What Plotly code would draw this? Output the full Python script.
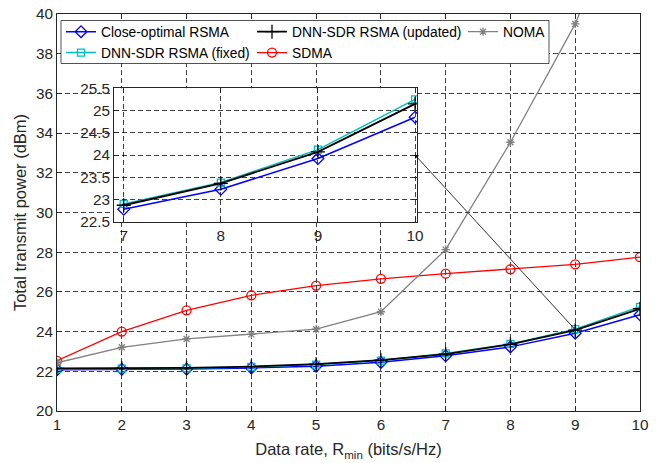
import plotly.graph_objects as go

# ---------------- data ----------------
rate = [1, 2, 3, 4, 5, 6, 7, 8, 9, 10]
close_optimal_rsma = [22.08, 22.10, 22.11, 22.17, 22.26, 22.45, 22.78, 23.23, 23.92, 24.85]
dnn_sdr_fixed = [22.12, 22.13, 22.15, 22.22, 22.34, 22.54, 22.90, 23.38, 24.12, 25.25]
dnn_sdr_updated = [22.15, 22.15, 22.17, 22.24, 22.36, 22.56, 22.87, 23.36, 24.07, 25.15]
sdma = [22.53, 24.00, 25.07, 25.83, 26.32, 26.66, 26.92, 27.14, 27.39, 27.75]
noma = [22.43, 23.21, 23.63, 23.86, 24.12, 25.00, 28.13, 33.54, 39.50, 47.50]

x_ticks = [1, 2, 3, 4, 5, 6, 7, 8, 9, 10]
y_ticks = [20, 22, 24, 26, 28, 30, 32, 34, 36, 38, 40]
inset_x_ticks = [7, 8, 9, 10]
inset_y_ticks = [22.5, 23, 23.5, 24, 24.5, 25, 25.5]
inset_start = 6  # index of rate 7

# ---------------- geometry / style ----------------
W, H = 657, 463
ML, MR, MT, MB = 57, 17, 14, 52
PW, PH = W - ML - MR, H - MT - MB
X_RANGE, Y_RANGE = [1, 10], [20, 40]
INSET_PX = dict(left=114, right=417, top=88.3, bottom=221.7)
IX_RANGE, IY_RANGE = [6.9, 10.02], [22.5, 25.5]

TXT = '#262626'
GRID = 'rgba(0,0,0,0.75)'
FONT = 'Liberation Sans, Arial, sans-serif'


def px2paper_x(px):
    return (px - ML) / PW


def px2paper_y(py):
    return (H - MB - py) / PH


inset_dom_x = [px2paper_x(INSET_PX['left']), px2paper_x(INSET_PX['right'])]
inset_dom_y = [px2paper_y(INSET_PX['bottom']), px2paper_y(INSET_PX['top'])]


def main_px(x, y):
    px = ML + (x - X_RANGE[0]) / (X_RANGE[1] - X_RANGE[0]) * PW
    py = (H - MB) - (y - Y_RANGE[0]) / (Y_RANGE[1] - Y_RANGE[0]) * PH
    return px, py


def inset_px(x, y):
    l, r, t, b = INSET_PX['left'], INSET_PX['right'], INSET_PX['top'], INSET_PX['bottom']
    px = l + (x - IX_RANGE[0]) / (IX_RANGE[1] - IX_RANGE[0]) * (r - l)
    py = b - (y - IY_RANGE[0]) / (IY_RANGE[1] - IY_RANGE[0]) * (b - t)
    return px, py


series = [
    dict(name='Close-optimal RSMA', y=close_optimal_rsma, color='#0000FF',
         symbol='diamond-open', size=9, width=1.5, legend='legend', inset=True),
    dict(name='DNN-SDR RSMA (fixed)', y=dnn_sdr_fixed, color='rgb(0,191,191)',
         symbol='square-open', size=7, width=1.5, legend='legend', inset=True),
    dict(name='DNN-SDR RSMA (updated)', y=dnn_sdr_updated, color='#000000',
         symbol='cross-thin-open', size=10, width=1.8, legend='legend2', inset=True),
    dict(name='SDMA', y=sdma, color='#FF0000',
         symbol='circle-open', size=9, width=1.3, legend='legend2', inset=False),
    dict(name='NOMA', y=noma, color='#808080',
         symbol='asterisk-open', size=7, width=1.3, legend='legend3', inset=False),
]

fig = go.Figure()
for s in series:
    fig.add_trace(go.Scatter(
        x=rate, y=s['y'], name=s['name'], mode='lines+markers',
        line=dict(color=s['color'], width=s['width']),
        marker=dict(symbol=s['symbol'], size=s['size'], color=s['color'],
                    line=dict(color=s['color'], width=1.3)),
        legend=s['legend'], xaxis='x', yaxis='y'))

for s in series:
    if not s['inset']:
        continue
    fig.add_trace(go.Scatter(
        x=rate[inset_start:], y=s['y'][inset_start:], name=s['name'],
        mode='lines+markers', showlegend=False,
        line=dict(color=s['color'], width=s['width']),
        marker=dict(symbol=s['symbol'], size=s['size'], color=s['color'],
                    line=dict(color=s['color'], width=1.3)),
        xaxis='x2', yaxis='y2'))

axis_common = dict(
    showgrid=True, gridcolor=GRID, gridwidth=1, griddash='5px,3px',
    ticks='inside', ticklen=5, tickcolor=TXT, tickwidth=0.8,
    showline=True, linecolor=TXT, linewidth=0.8, mirror='ticks',
    zeroline=False, automargin=False,
    tickfont=dict(size=15.3, color=TXT, family=FONT),
)

leg_common = dict(xanchor='left', yanchor='top', orientation='v',
                  bgcolor='rgba(0,0,0,0)', borderwidth=0, tracegroupgap=0,
                  font=dict(size=13.8, color='#000000', family=FONT))
LEG_TOP = 16.2
legend_cols_px = [61, 252, 463]
box_px = dict(left=61, right=549, top=20.5, bottom=63.5)

head = inset_px(10, 24)
tail = main_px(9, 24.1)

fig.update_layout(
    width=W, height=H,
    margin=dict(l=ML, r=MR, t=MT, b=MB, autoexpand=False),
    paper_bgcolor='white', plot_bgcolor='white',
    font=dict(family=FONT, color=TXT),
    xaxis=dict(range=X_RANGE, tickvals=x_ticks, **axis_common,
               title=dict(text='Data rate, R<sub>min</sub> (bits/s/Hz)',
                          font=dict(size=16.5, color=TXT, family=FONT), standoff=11)),
    yaxis=dict(range=Y_RANGE, tickvals=y_ticks, **axis_common,
               title=dict(text='Total transmit power (dBm)',
                          font=dict(size=16.5, color=TXT, family=FONT), standoff=5)),
    xaxis2=dict(domain=inset_dom_x, anchor='y2', range=IX_RANGE,
                tickvals=inset_x_ticks, **axis_common),
    yaxis2=dict(domain=inset_dom_y, anchor='x2', range=IY_RANGE,
                tickvals=inset_y_ticks, **axis_common),
    legend=dict(x=px2paper_x(legend_cols_px[0]), y=px2paper_y(LEG_TOP), **leg_common),
    legend2=dict(x=px2paper_x(legend_cols_px[1]), y=px2paper_y(LEG_TOP), **leg_common),
    legend3=dict(x=px2paper_x(legend_cols_px[2]), y=px2paper_y(LEG_TOP), **leg_common),
    shapes=[dict(type='rect', xref='paper', yref='paper', layer='above',
                 x0=px2paper_x(box_px['left']), x1=px2paper_x(box_px['right']),
                 y0=px2paper_y(box_px['bottom']), y1=px2paper_y(box_px['top']),
                 line=dict(color=TXT, width=0.8), fillcolor='white')],
    annotations=[dict(xref='x2', yref='y2', x=10, y=24, text='',
                      showarrow=True, axref='pixel', ayref='pixel',
                      ax=tail[0] - head[0], ay=tail[1] - head[1],
                      arrowhead=1, arrowsize=1.2, arrowwidth=0.8,
                      arrowcolor='#000000', standoff=0)],
    showlegend=True,
)

fig.write_html('out.html')
